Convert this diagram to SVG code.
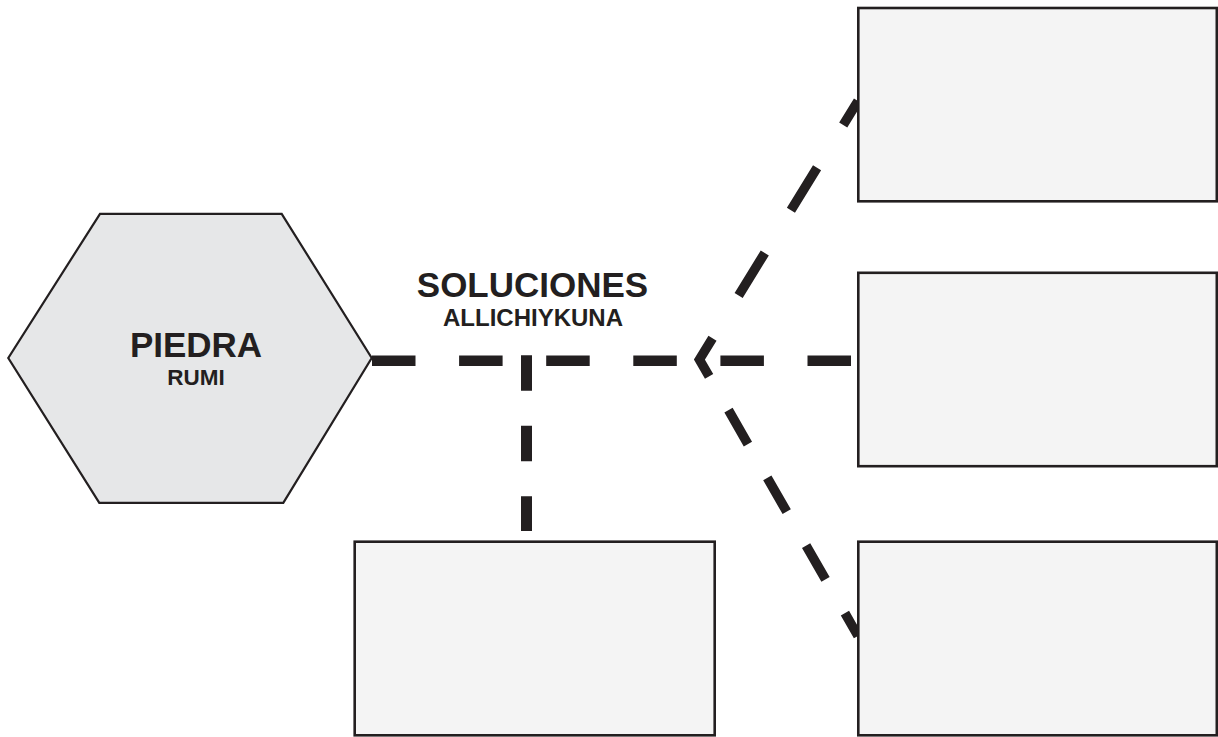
<svg xmlns="http://www.w3.org/2000/svg" width="1218" height="737" viewBox="0 0 1218 737">
<style>
.box{fill:#f4f4f4;stroke:#231f20;stroke-width:2.6}
.hex{fill:#e6e7e8;stroke:#231f20;stroke-width:2.2;stroke-linejoin:miter}
.t{font-family:"Liberation Sans",Arial,sans-serif;font-weight:bold;fill:#231f20;text-anchor:middle}
.c{fill:none;stroke:#231f20;stroke-linecap:butt}
</style>
<rect width="1218" height="737" fill="#ffffff"/>
<g id="connectors">
<line class="c" x1="372" y1="360.8" x2="851.3" y2="360.8" stroke-width="10.5" stroke-dasharray="43.5 43.6"/>
<line class="c" x1="526.5" y1="355.3" x2="526.5" y2="531" stroke-width="11" stroke-dasharray="35.5 35"/>
<polyline class="c" points="712.5,338.2 699.4,359.5 709.1,376.4" stroke-width="9.5" stroke-linejoin="miter" stroke-miterlimit="10"/>
<line class="c" x1="712.5" y1="338.2" x2="858" y2="101" stroke-width="9.5" stroke-dasharray="50 50" stroke-dashoffset="50"/>
<line class="c" x1="709.1" y1="376.4" x2="858" y2="636" stroke-width="9.5" stroke-dasharray="39 39" stroke-dashoffset="39"/>
</g>
<g id="piedra">
<polygon class="hex" points="100,213.8 281.7,213.8 371.7,358 283.3,502.8 99.3,502.8 8.3,358"/>
<text class="t" x="196" y="357" font-size="35">PIEDRA</text>
<text class="t" x="196" y="385" font-size="22.5">RUMI</text>
</g>
<g id="soluciones">
<text class="t" x="532.5" y="297" font-size="35">SOLUCIONES</text>
<text class="t" x="533" y="326" font-size="24">ALLICHIYKUNA</text>
</g>
<g id="box-top-right"><rect class="box" x="858.3" y="8" width="358.5" height="193.3"/></g>
<g id="box-middle-right"><rect class="box" x="858.3" y="272.8" width="358.5" height="193.4"/></g>
<g id="box-bottom-right"><rect class="box" x="858.3" y="541.7" width="358.5" height="193.6"/></g>
<g id="box-bottom-left"><rect class="box" x="354.7" y="541.7" width="360" height="193.6"/></g>
</svg>
